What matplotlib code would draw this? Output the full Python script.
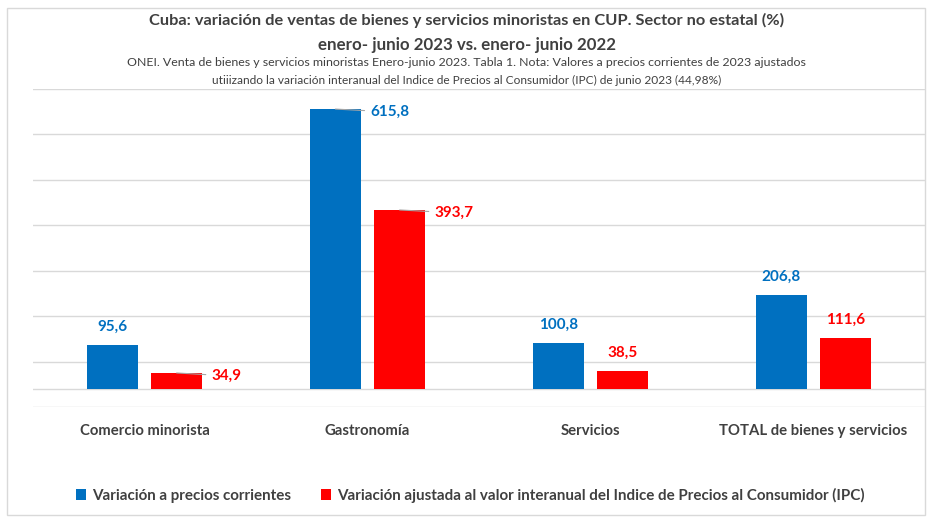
import matplotlib
matplotlib.use("Agg")
import matplotlib.pyplot as plt
from matplotlib.patches import Rectangle
import numpy as np

plt.rcParams['font.family'] = ['Lato', 'DejaVu Sans']

categories = ["Comercio minorista", "Gastronomía", "Servicios", "TOTAL de bienes y servicios"]
corrientes = [95.6, 615.8, 100.8, 206.8]
ajustada = [34.9, 393.7, 38.5, 111.6]
series_names = ["Variación a precios corrientes",
                "Variación ajustada al valor interanual del Indice de Precios al Consumidor (IPC)"]
# label placement: True = to the right with leader line, False = above the bar
side_corr = [False, True, False, False]
side_aj = [True, True, False, False]

BLUE = "#0070C0"
RED = "#FF0000"
GRID = "#D9D9D9"
TXT = "#404040"

W, H = 933, 524
fig = plt.figure(figsize=(W / 100, H / 100), dpi=100)
fig.patch.set_facecolor("white")

# outer border
fig.add_artist(Rectangle((7 / W, 1 - 515 / H), (925 - 7) / W, (515 - 8) / H,
                         transform=fig.transFigure, fill=False, edgecolor=GRID, lw=1.0))

ax = fig.add_axes([33 / W, 1 - 407 / H, (925 - 33) / W, (407 - 89) / H])
ax.set_xlim(-0.5, 3.5)
ymin, ymax = -40, 660
ax.set_ylim(ymin, ymax)
for s in ax.spines.values():
    s.set_visible(False)
for yv in np.arange(ymin, ymax + 1, 100):
    ax.axhline(yv, color=GRID, lw=1.0, zorder=0)
ax.axhline(0, color=GRID, lw=1.0, zorder=1)

x = np.arange(len(categories))
bw = 0.229
off = 0.144
ax.bar(x - off, corrientes, bw, color=BLUE, zorder=2, label=series_names[0])
ax.bar(x + off, ajustada, bw, color=RED, zorder=2, label=series_names[1])

def fmt(v):
    return f"{v:.1f}".replace(".", ",")

for xi, v, right, col, dx in [(xi, v, r, BLUE, -off) for xi, v, r in zip(x, corrientes, side_corr)] + \
                              [(xi, v, r, RED, off) for xi, v, r in zip(x, ajustada, side_aj)]:
    if right:
        ax.annotate(fmt(v), xy=(xi + dx, v), xytext=(25, -2), textcoords="offset points",
                    ha="left", va="center", fontsize=11, fontweight="bold", color=col,
                    arrowprops=dict(arrowstyle="-", color="#A6A6A6", lw=0.8, shrinkA=2, shrinkB=0),
                    zorder=3)
    else:
        ax.annotate(fmt(v), xy=(xi + dx, v), xytext=(0, 8), textcoords="offset points",
                    ha="center", va="bottom", fontsize=11, fontweight="bold", color=col, zorder=3)

ax.set_yticks([])
ax.set_xticks(x)
ax.set_xticklabels(categories, fontsize=10.7, fontweight="bold", color=TXT)
ax.tick_params(axis="x", length=0, pad=12)

fig.text(0.5, 1 - 20 / H, "Cuba: variación de ventas de bienes y servicios minoristas en CUP. Sector no estatal (%)",
         ha="center", va="center", fontsize=11.75, fontweight="bold", color=TXT)
fig.text(0.5, 1 - 45 / H, "enero- junio 2023 vs. enero- junio 2022",
         ha="center", va="center", fontsize=12.2, fontweight="bold", color=TXT)
fig.text(0.5, 1 - 62 / H, "ONEI. Venta de bienes y servicios minoristas Enero-junio 2023. Tabla 1. Nota: Valores a precios corrientes de 2023 ajustados",
         ha="center", va="center", fontsize=8.9, color=TXT)
fig.text(0.5, 1 - 80 / H, "utiiizando la variación interanual del Indice de Precios al Consumidor (IPC) de junio 2023 (44,98%)",
         ha="center", va="center", fontsize=8.6, color=TXT)

leg = fig.legend(loc="center", bbox_to_anchor=(470 / W, 1 - 495 / H), ncol=2, frameon=False,
                 handlelength=0.7, handleheight=0.7, handletextpad=0.35, columnspacing=2.0,
                 prop={"size": 10.9, "weight": "bold"})
for t in leg.get_texts():
    t.set_color(TXT)

fig.savefig("out.png", dpi=100)
